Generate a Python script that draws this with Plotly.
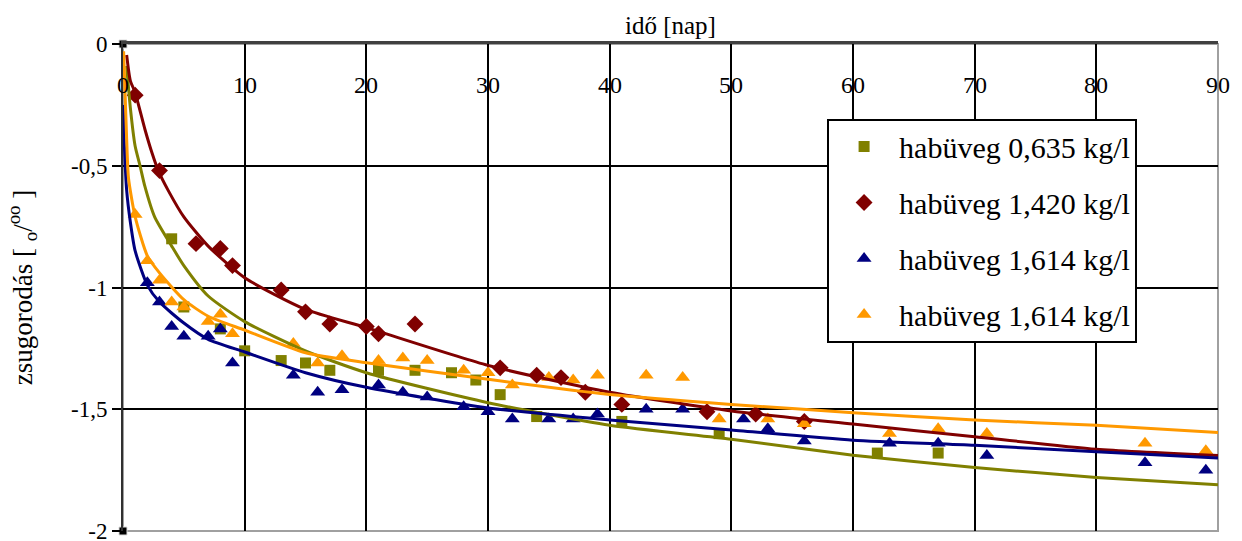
import plotly.graph_objects as go

# ---- data ----
olive_x = [4, 5, 8, 10, 13, 15, 17, 21, 24, 27, 29, 31, 34, 41, 49, 62, 67]
olive_y = [-0.80, -1.08, -1.17, -1.26, -1.30, -1.31, -1.34, -1.34, -1.34, -1.35, -1.38,
           -1.44, -1.53, -1.55, -1.60, -1.68, -1.68]

red_x = [1, 3, 6, 8, 9, 13, 15, 17, 20, 21, 24, 31, 34, 36, 38, 41, 48, 52, 56]
red_y = [-0.21, -0.52, -0.82, -0.84, -0.91, -1.01, -1.10, -1.15, -1.16, -1.19, -1.15, -1.33,
         -1.36, -1.37, -1.43, -1.48, -1.51, -1.52, -1.55]

blue_x = [2, 3, 4, 5, 7, 8, 9, 14, 16, 18, 21, 23, 25, 28, 30, 32, 35, 37, 39, 43, 46, 51, 53,
          56, 63, 67, 71, 84, 89]
blue_y = [-0.98, -1.06, -1.16, -1.20, -1.20, -1.17, -1.31, -1.36, -1.43, -1.42, -1.40, -1.43,
          -1.45, -1.49, -1.51, -1.54, -1.54, -1.54, -1.52, -1.50, -1.50, -1.54, -1.58, -1.63,
          -1.64, -1.64, -1.69, -1.72, -1.75]

orange_x = [1, 2, 3, 4, 5, 7, 8, 9, 14, 16, 18, 21, 23, 25, 28, 30, 32, 35, 37, 39, 43, 46, 49,
            53, 56, 63, 67, 71, 84, 89]
orange_y = [-0.70, -0.89, -0.97, -1.06, -1.08, -1.14, -1.11, -1.19, -1.23, -1.31, -1.28, -1.30,
            -1.29, -1.30, -1.34, -1.35, -1.40, -1.37, -1.38, -1.36, -1.36, -1.37, -1.54, -1.54,
            -1.56, -1.60, -1.58, -1.60, -1.64, -1.67]

# trend lines
olive_tx = [0.3, 0.6, 1, 1.4, 1.8, 2.6, 4, 5, 7, 10, 15, 20, 30, 40, 50, 60, 70, 80, 90]
olive_ty = [-0.09, -0.26, -0.42, -0.50, -0.585, -0.71, -0.83, -0.91, -1.035, -1.14, -1.26, -1.35,
            -1.473, -1.566, -1.623, -1.689, -1.739, -1.78, -1.81]

red_tx = [0.3, 0.6, 1, 1.8, 2.4, 2.9, 3.7, 5, 7, 10, 15, 20, 30, 40, 50, 60, 70, 80, 90]
red_ty = [-0.045, -0.15, -0.20, -0.35, -0.45, -0.52, -0.60, -0.71, -0.83, -0.96, -1.09, -1.165,
          -1.32, -1.43, -1.507, -1.561, -1.613, -1.664, -1.69]

blue_tx = [0.02, 0.1, 0.3, 0.6, 1, 2, 3, 5, 7, 10, 15, 20, 30, 40, 50, 60, 70, 80, 90]
blue_ty = [-0.25, -0.40, -0.60, -0.73, -0.85, -0.99, -1.06, -1.146, -1.213, -1.265, -1.35, -1.41,
           -1.495, -1.544, -1.585, -1.627, -1.648, -1.675, -1.70]

orange_tx = [0.05, 0.3, 0.45, 1, 2, 3, 5, 7, 10, 15, 20, 30, 40, 50, 60, 70, 80, 90]
orange_ty = [-0.03, -0.39, -0.55, -0.71, -0.87, -0.94, -1.05, -1.118, -1.175, -1.268, -1.309,
             -1.377, -1.439, -1.48, -1.514, -1.544, -1.566, -1.595]

corner_x = [0, 0]
corner_y = [0, -2]

names = ["habüveg 0,635 kg/l", "habüveg 1,420 kg/l", "habüveg 1,614 kg/l", "habüveg 1,614 kg/l"]

x_ticks = [0, 10, 20, 30, 40, 50, 60, 70, 80, 90]
y_ticks = [0, -0.5, -1, -1.5, -2]
y_ticktext = ["0", "-0,5", "-1", "-1,5", "-2"]

OLIVE = "#808000"
RED = "#800000"
BLUE = "#000080"
ORANGE = "#FF9900"

fig = go.Figure()

series = [
    (olive_x, olive_y, OLIVE, "square", 11, names[0]),
    (red_x, red_y, RED, "diamond", 13, names[1]),
    (blue_x, blue_y, BLUE, "triangle-up", 13, names[2]),
    (orange_x, orange_y, ORANGE, "triangle-up", 13, names[3]),
]
for i, (xs, ys, col, sym, sz, nm) in enumerate(series):
    fig.add_trace(go.Scatter(x=xs, y=ys, mode="markers", name=nm,
                             legendgroup=f"g{i}",
                             marker=dict(color=col, symbol=sym, size=sz, line=dict(width=0))))

trends = [
    (olive_tx, olive_ty, OLIVE),
    (red_tx, red_ty, RED),
    (blue_tx, blue_ty, BLUE),
    (orange_tx, orange_ty, ORANGE),
]
for xs, ys, col in trends:
    fig.add_trace(go.Scatter(x=xs, y=ys, mode="lines", showlegend=False, hoverinfo="skip",
                             line=dict(color=col, width=3, shape="spline", smoothing=0.6)))

fig.add_trace(go.Scatter(x=corner_x, y=corner_y, mode="markers", showlegend=False,
                         cliponaxis=False, hoverinfo="skip",
                         marker=dict(color="black", symbol="square", size=8,
                                     line=dict(color="#dddddd", width=1))))

FONT = "Liberation Serif, Times New Roman, serif"

# x tick labels sit inside the plot, just below the top axis
annotations = [dict(x=v, y=1, xref="x", yref="paper", text=str(v), showarrow=False,
                    yanchor="middle", yshift=-41,
                    font=dict(family=FONT, size=24, color="black"))
               for v in x_ticks]
annotations.append(dict(x=0.5, y=1, xref="paper", yref="paper", text="idő [nap]",
                        showarrow=False, yanchor="bottom", yshift=3,
                        font=dict(family=FONT, size=25, color="black")))

fig.update_layout(
    width=1242, height=541,
    margin=dict(l=123, r=24, t=44, b=10),
    paper_bgcolor="white", plot_bgcolor="white",
    font=dict(family=FONT, color="black", size=23),
    legend=dict(x=0.643, y=0.847, xanchor="left", yanchor="top",
                bgcolor="white", bordercolor="black", borderwidth=2,
                font=dict(family=FONT, size=30, color="black"),
                tracegroupgap=14, itemwidth=60),
    xaxis=dict(range=[0, 90], side="top", tickvals=x_ticks, showticklabels=False,
               showgrid=True, gridcolor="black", gridwidth=2,
               showline=True, linecolor="#404040", linewidth=3,
               zeroline=False, ticks="", automargin=False),
    yaxis=dict(range=[-2, 0], tickvals=y_ticks, ticktext=y_ticktext,
               showgrid=True, gridcolor="black", gridwidth=2,
               showline=True, linecolor="#303030", linewidth=2,
               zeroline=False, ticks="outside", ticklen=9, tickwidth=2, tickcolor="black",
               ticklabeloverflow="allow", automargin=False,
               tickfont=dict(size=23, family=FONT),
               title=dict(text="zsugorodás [ <sub>o</sub>/<sup>oo</sup> ]",
                          font=dict(size=27, family=FONT), standoff=31)),
    annotations=annotations,
    shapes=[dict(type="rect", xref="paper", yref="paper", x0=0, x1=1, y0=0, y1=1,
                 line=dict(color="#a0a0a0", width=2), layer="below")],
)

fig.write_html("out.html", config={"displayModeBar": False},
               post_script="document.body.style.margin='0';document.body.style.overflow='hidden';")
